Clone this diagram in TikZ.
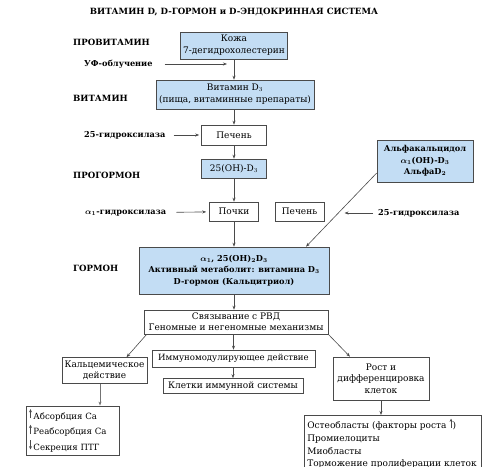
\documentclass[tikz,border=0pt]{standalone}
\usepackage{fontspec}
\setmainfont{DejaVu Serif}
\usepackage{amsmath}
\usetikzlibrary{arrows.meta,positioning,calc}
\definecolor{boxblue}{HTML}{C3DDF4}
\definecolor{linegray}{HTML}{4A4A4A}
\newcommand{\uparr}{\tikz[x=1pt,y=1pt,baseline=-1pt]\draw[linegray,line width=0.6pt,-{Stealth[length=3.2pt,width=3pt]}] (0,0) -- (0,9);}
\newcommand{\downarr}{\tikz[x=1pt,y=1pt,baseline=-1pt]\draw[linegray,line width=0.6pt,-{Stealth[length=3.2pt,width=3pt]}] (0,9) -- (0,0);}

\begin{document}
\begin{tikzpicture}[
    x=1pt, y=-1pt,
    font=\fontsize{9}{11.8}\selectfont,
    box/.style={rectangle, draw=linegray, line width=0.6pt, inner sep=1.5pt, align=center},
    bluebox/.style={box, fill=boxblue},
    boldbox/.style={bluebox, font=\fontsize{8.2}{11.5}\selectfont\bfseries\boldmath},
    stage/.style={font=\fontsize{8.6}{10}\selectfont\bfseries, anchor=west, inner sep=0pt},
    enzyme/.style={font=\fontsize{8.2}{10}\selectfont\bfseries\boldmath, anchor=west, inner sep=0pt},
    arrow/.style={-{Stealth[length=4pt,width=3pt]}, draw=linegray, line width=0.6pt},
  ]
    \useasboundingbox (0,0) rectangle (484,466);
    \clip (0,0) rectangle (484,466);

    \node[font=\fontsize{8.6}{10}\selectfont\bfseries] (title) at (234,12) {ВИТАМИН D, D-ГОРМОН и D-ЭНДОКРИННАЯ СИСТЕМА};

    \node[stage] (provit) at (73,42) {ПРОВИТАМИН};
    \node[stage] (vitlbl) at (73,98) {ВИТАМИН};
    \node[stage] (progorm) at (73,175) {ПРОГОРМОН};
    \node[stage] (gorm) at (73,268) {ГОРМОН};

    \node[bluebox, minimum width=107, minimum height=27] (skin) at (234,45.5) {Кожа\\7-дегидрохолестерин};
    \node[enzyme] (uv) at (84,64) {УФ-облучение};
    \node[bluebox, minimum width=158, minimum height=29] (vitd) at (235,94.5) {Витамин D$_3$\\(пища, витаминные препараты)};
    \node[box, minimum width=65, minimum height=20] (liver) at (234,135) {Печень};
    \node[enzyme] (hydr) at (84,135) {25-гидроксилаза};
    \node[bluebox, minimum width=65, minimum height=19] (ohd) at (234,168.5) {25(OH)-D$_3$};
    \node[boldbox, minimum width=96, minimum height=42] (alfa) at (425,161) {Альфакальцидол\\$\alpha_1$(OH)-D$_3$\\АльфаD$_2$};
    \node[box, minimum width=49, minimum height=19] (kidney) at (234,211.5) {Почки};
    \node[box, minimum width=49, minimum height=19] (liver2) at (299.5,211.5) {Печень};
    \node[enzyme] (ahydr) at (85,213) {$\alpha_1$-гидроксилаза};
    \node[enzyme] (hydr2) at (378,213) {25-гидроксилаза};
    \node[boldbox, minimum width=190, minimum height=47] (hormone) at (234,270.5) {$\alpha_1$, 25(OH)$_2$D$_3$\\Активный метаболит: витамина D$_3$\\D-гормон (Кальцитриол)};

    \node[box, minimum width=184, minimum height=24, font=\fontsize{9}{10.8}\selectfont] (vdr) at (236,322) {Связывание с РВД\\Геномные и негеномные механизмы};
    \node[box, minimum width=85, minimum height=26, font=\fontsize{9}{11}\selectfont] (calc) at (104.5,370.5) {Кальцемическое\\действие};
    \node[box, minimum width=163, minimum height=17, font=\fontsize{8.6}{10}\selectfont] (immun) at (233.5,358.5) {Иммуномодулирующее действие};
    \node[box, minimum width=140, minimum height=15] (cells) at (233,386) {Клетки иммунной системы};
    \node[box, minimum width=96, minimum height=43, font=\fontsize{9}{11.3}\selectfont] (growth) at (381,378.5) {Рост и\\дифференцировка\\клеток};
    \node[box, text width=87, minimum height=47, align=left, inner sep=3pt, font=\fontsize{8.6}{11}\selectfont] (absorb) at (72.5,430.5) {\uparr\,Абсорбция Ca\\[2.5pt]\uparr\,Реабсорбция Ca\\[2.5pt]\downarr\,Секреция ПТГ};
    \node[box, anchor=north west, text width=171, align=left, inner sep=3pt, font=\fontsize{9}{12.7}\selectfont] (osteo) at (304,415) {Остеобласты (факторы роста \uparr)\\Промиелоциты\\Миобласты\\Торможение пролиферации клеток};

    \draw[arrow] (skin) -- (vitd.north -| skin);
    \draw[arrow, shorten <=12pt, shorten >=7pt] (uv.east) -- (uv.east -| skin.south);
    \draw[arrow] (vitd.south -| liver) -- (liver);
    \draw[arrow, shorten <=8pt, shorten >=2pt] (hydr) -- (liver);
    \draw[arrow] (liver) -- (ohd);
    \draw[arrow] (ohd) -- (kidney);
    \draw[arrow, shorten <=10pt, shorten >=3pt] (ahydr) -- (kidney);
    \draw[arrow] (kidney) -- (hormone);
    \draw[arrow] ([yshift=-12pt]alfa.west) -- ([xshift=72pt]hormone.north) coordinate[pos=0.54] (diag);
    \draw[arrow, shorten <=5pt, shorten >=6pt] (hydr2.west) -- (hydr2.west -| diag);
    \draw[arrow] (hormone.south) -- (hormone.south |- vdr.north);
    \draw[arrow] ([xshift=3pt]vdr.south west) -- ([xshift=22pt]calc.north);
    \draw[arrow] (immun.north |- vdr.south) -- (immun.north);
    \draw[arrow] (vdr.south east) -- ([xshift=-31pt]growth.north);
    \draw[arrow] (immun.south -| cells) -- (cells);
    \draw[arrow, draw=black!55, line width=1pt] ([xshift=-4.5pt]calc.south) -- ([xshift=-4.5pt]calc.south |- absorb.north);
    \draw[arrow] (growth.south) -- (growth.south |- osteo.north);
  \end{tikzpicture}
\end{document}
